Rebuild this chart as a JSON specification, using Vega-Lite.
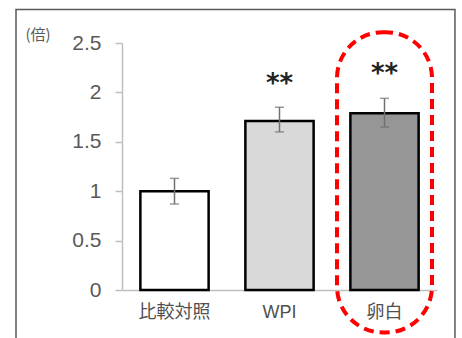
{
  "$schema": "https://vega.github.io/schema/vega-lite/v6.json",
  "width": 315,
  "height": 247,
  "autosize": {"type": "none"},
  "padding": {"left": 122, "top": 43, "right": 25, "bottom": 48},
  "background": "white",
  "config": {"view": {"stroke": null}, "font": "Liberation Sans, Noto Sans CJK JP"},
  "datasets": {
    "bars": [
      {"cat": "比較対照", "value": 1.0, "lo": 0.87, "hi": 1.13, "sig": "", "sigY": 1.3},
      {"cat": "WPI", "value": 1.71, "lo": 1.60, "hi": 1.85, "sig": "**", "sigY": 2.11},
      {"cat": "卵白", "value": 1.79, "lo": 1.65, "hi": 1.94, "sig": "**", "sigY": 2.21}
    ],
    "oval": [{"cat": "卵白", "top": 2.61, "bottom": -0.43}],
    "frame": [{"x0": -0.3365, "x1": 1.057, "y0": 2.84, "y1": -0.6}]
  },
  "resolve": {"scale": {"x": "independent"}, "axis": {"x": "independent", "y": "independent"}},
  "layer": [
    {
      "data": {"name": "frame"},
      "mark": {"type": "rect", "fill": null, "stroke": "#595959", "strokeWidth": 1.5, "clip": false},
      "encoding": {
        "x": {"field": "x0", "type": "quantitative", "scale": {"domain": [0, 1], "nice": false, "zero": false}, "axis": null},
        "x2": {"field": "x1"},
        "y": {"field": "y0", "type": "quantitative", "scale": {"domain": [0, 2.5], "nice": false}, "axis": null},
        "y2": {"field": "y1"}
      }
    },
    {
      "encoding": {
        "x": {
          "field": "cat", "type": "nominal", "sort": null,
          "scale": {"type": "band", "paddingInner": 0.35, "paddingOuter": 0.175},
          "axis": {"title": null, "labelAngle": 0, "ticks": false, "domainColor": "#bfbfbf", "domainWidth": 1.5, "labelFontSize": 18, "labelColor": "#505050", "labelPadding": 13, "labelFont": "Liberation Sans, Noto Sans CJK JP"}
        }
      },
      "layer": [
        {
          "data": {"name": "bars"},
          "mark": {"type": "bar", "stroke": "black", "strokeWidth": 2.5, "clip": false},
          "encoding": {
            "y": {
              "field": "value", "type": "quantitative",
              "scale": {"domain": [0, 2.5], "nice": false},
              "axis": {"values": [0, 0.5, 1, 1.5, 2, 2.5], "format": "~g", "grid": false, "domainColor": "#bfbfbf", "domainWidth": 1.5, "tickColor": "#bfbfbf", "tickSize": 7, "tickWidth": 1.5, "labelFontSize": 21, "labelColor": "#595959", "labelPadding": 14, "title": "(倍)", "titleAngle": 0, "titleAlign": "left", "titleBaseline": "middle", "titleX": -97, "titleY": -9, "titleFontSize": 15, "titleFontWeight": "normal", "titleColor": "#595959", "titleFont": "Noto Sans CJK JP"}
            },
            "color": {"field": "cat", "type": "nominal", "sort": null, "scale": {"domain": ["比較対照", "WPI", "卵白"], "range": ["#ffffff", "#d9d9d9", "#969696"]}, "legend": null}
          }
        },
        {
          "data": {"name": "bars"},
          "mark": {"type": "rule", "color": "#707070", "strokeWidth": 1.5},
          "encoding": {"y": {"field": "lo", "type": "quantitative"}, "y2": {"field": "hi"}}
        },
        {
          "data": {"name": "bars"},
          "mark": {"type": "tick", "color": "#707070", "size": 9, "thickness": 1.5, "orient": "horizontal"},
          "encoding": {"y": {"field": "lo", "type": "quantitative"}}
        },
        {
          "data": {"name": "bars"},
          "mark": {"type": "tick", "color": "#707070", "size": 9, "thickness": 1.5, "orient": "horizontal"},
          "encoding": {"y": {"field": "hi", "type": "quantitative"}}
        },
        {
          "data": {"name": "bars"},
          "mark": {"type": "text", "fontSize": 26, "fontWeight": "bold", "font": "DejaVu Sans", "color": "#222222", "baseline": "middle", "dy": 2},
          "encoding": {"y": {"field": "sigY", "type": "quantitative"}, "text": {"field": "sig"}}
        },
        {
          "data": {"name": "oval"},
          "mark": {"type": "bar", "width": 95, "cornerRadius": 46, "fill": null, "stroke": "#ff0000", "strokeWidth": 4, "strokeDash": [10, 6], "clip": false},
          "encoding": {"y": {"field": "top", "type": "quantitative"}, "y2": {"field": "bottom"}}
        }
      ]
    }
  ]
}
